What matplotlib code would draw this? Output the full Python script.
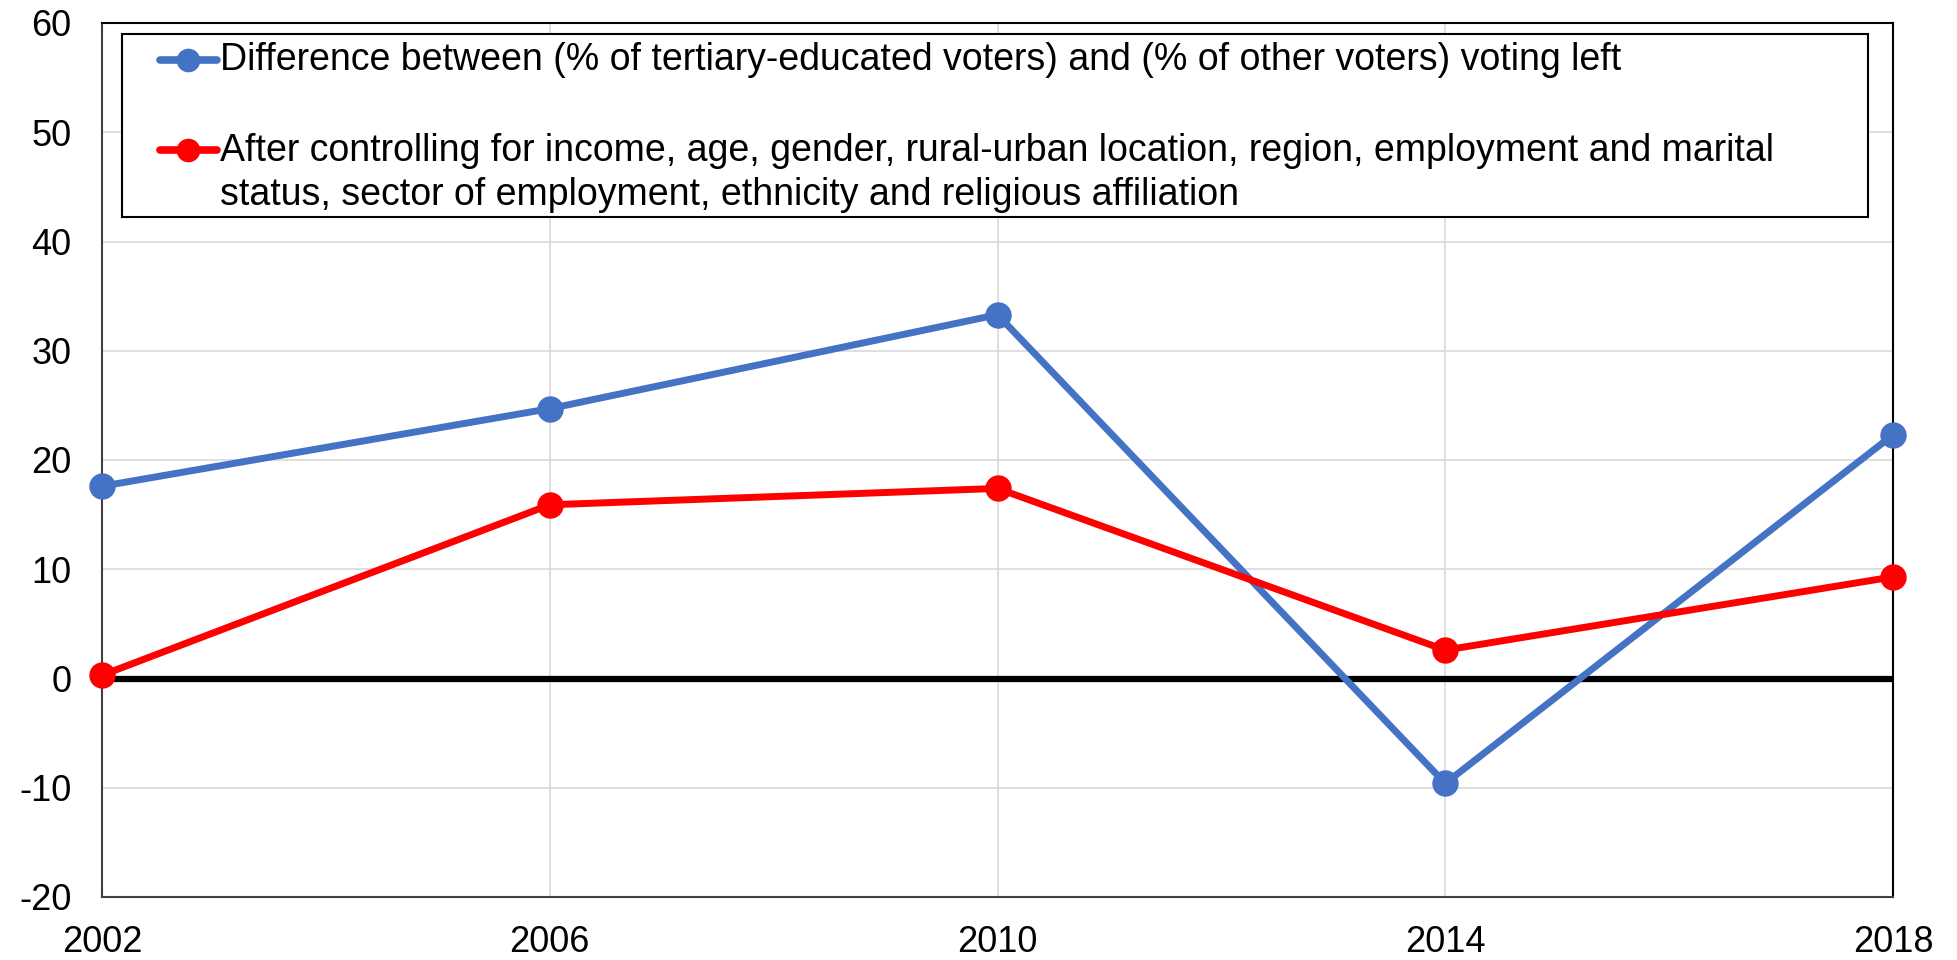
import matplotlib
matplotlib.use('Agg')
import matplotlib.pyplot as plt
from matplotlib.patches import Rectangle

plt.rcParams['font.family'] = ['Liberation Sans', 'DejaVu Sans']
plt.rcParams['axes.unicode_minus'] = False  # plain hyphen for negatives

years = [2002, 2006, 2010, 2014, 2018]
diff_raw = [17.6, 24.7, 33.3, -9.6, 22.3]
diff_ctrl = [0.3, 15.9, 17.4, 2.6, 9.3]
label_raw = "Difference between (% of tertiary-educated voters) and (% of other voters) voting left"
label_ctrl = ("After controlling for income, age, gender, rural-urban location, region, employment and marital\n"
              "status, sector of employment, ethnicity and religious affiliation")

blue = '#4472C4'
red = '#FF0000'

fig = plt.figure(figsize=(19.57, 9.6), dpi=100)
ax = fig.add_axes([102 / 1957, 1 - 897 / 960, 1791 / 1957, 874 / 960])

ax.plot(years, diff_raw, color=blue, lw=5, marker='o', ms=18, zorder=4, clip_on=False)
ax.plot(years, diff_ctrl, color=red, lw=5, marker='o', ms=18, zorder=4, clip_on=False)
ax.axhline(0, color='black', lw=4.5, zorder=3)

ax.set_xlim(2002, 2018)
ax.set_ylim(-20, 60)
ax.set_xticks(years)
ax.set_yticks(range(-20, 61, 10))
ax.grid(True, color='#D9D9D9', lw=1.2, zorder=0)
ax.tick_params(length=0, labelsize=26)
ax.tick_params(axis='y', pad=22)
ax.tick_params(axis='x', pad=20)
for s in ['left', 'bottom']:
    ax.spines[s].set_color('#404040')
    ax.spines[s].set_linewidth(1.5)
for s in ['top', 'right']:
    ax.spines[s].set_color('black')
    ax.spines[s].set_linewidth(1.5)

# legend box drawn by hand so the handle sits on the first line of the wrapped label
ax.add_patch(Rectangle((0.0112, 0.778), 0.986 - 0.0112, 0.9874 - 0.778, transform=ax.transAxes,
                       facecolor='white', edgecolor='black', lw=1.5, zorder=6, clip_on=False))
for y, col in [(0.9577, blue), (0.8547, red)]:
    ax.plot([0.0324, 0.0642], [y, y], color=col, lw=5.5, solid_capstyle='round',
            transform=ax.transAxes, zorder=7, clip_on=False)
    ax.plot([0.048], [y], color=col, marker='o', ms=16, transform=ax.transAxes, zorder=7, clip_on=False)
ax.text(0.0659, 0.9577, label_raw, transform=ax.transAxes, fontsize=27, va='center', ha='left', zorder=7)
ax.text(0.0659, 0.8284, label_ctrl, transform=ax.transAxes, fontsize=27, va='center', ha='left',
        linespacing=1.28, zorder=7)

fig.savefig('out.png', dpi=100)
